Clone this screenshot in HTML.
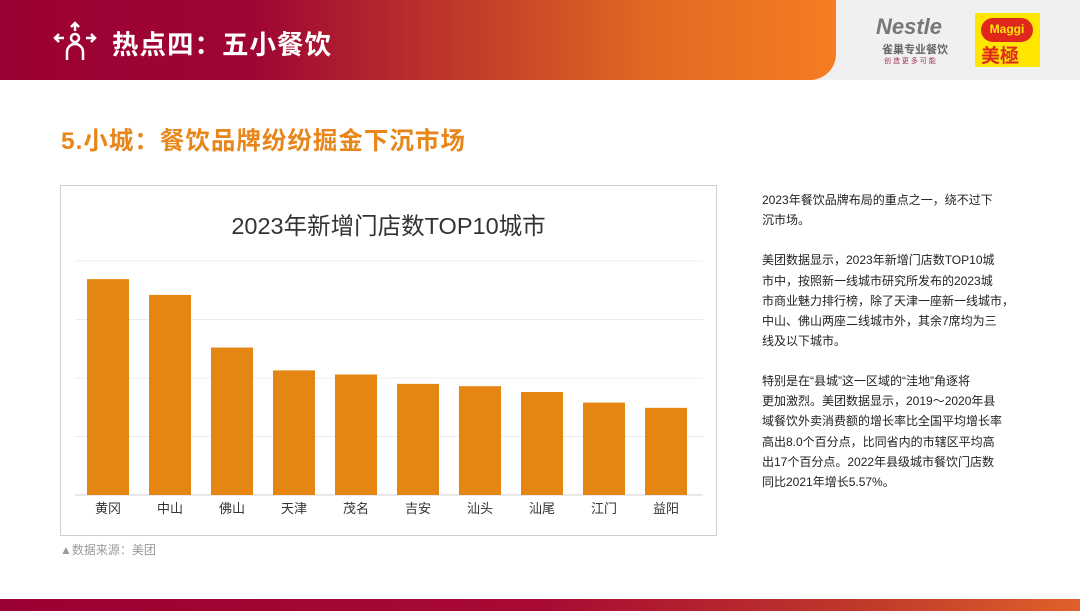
<!DOCTYPE html>
<html><head><meta charset="utf-8">
<style>
*{margin:0;padding:0;box-sizing:border-box}
body{width:1080px;height:611px;position:relative;overflow:hidden;background:#fff;font-family:"Liberation Sans","Noto Sans CJK SC",sans-serif}
.abs{position:absolute}
.rt{position:absolute;left:762px;font-size:12px;color:#222;white-space:nowrap;line-height:14px}
</style></head><body>
<div class="abs" style="left:0;top:0;width:1080px;height:80px;background:#f0f0f0"></div>
<div class="abs" style="left:0;top:0;width:836px;height:80px;background:linear-gradient(90deg,#9b0032 0%,#9e0534 30%,#c0392a 55%,#e06a22 78%,#f67d22 100%);border-bottom-right-radius:26px"></div>
<svg class="abs" style="left:52px;top:20px" width="46" height="42" viewBox="0 0 46 42">
<g fill="#fff" stroke="#fff" stroke-width="2.5"><circle cx="23" cy="18" r="4" fill="none"/><path d="M23 3v8M19 7l4-4 4 4M3 18h9M7 14l-4 4 4 4M43 18h-9M39 14l4 4-4 4" fill="none"/><path d="M15 40v-8a8 8 0 0 1 16 0v8" fill="none"/></g></svg>
<div class="abs" style="left:112px;top:23px;color:#fff;font-size:26.5px;font-weight:bold;letter-spacing:1px">热点四：五小餐饮</div>
<div class="abs" style="left:876px;top:14px;width:84px;height:54px">
<div style="position:absolute;left:0;top:0;font-size:22px;color:#777;font-weight:bold;font-style:italic">Nestle</div>
<div style="position:absolute;left:6px;top:27px;font-size:11px;color:#666;font-weight:bold">雀巢专业餐饮</div>
<div style="position:absolute;left:8px;top:42px;font-size:7px;color:#a03050">创 造 更 多 可 能</div></div>
<div class="abs" style="left:975px;top:13px;width:65px;height:54px;background:#ffe600">
<div style="position:absolute;left:6px;top:5px;width:52px;height:24px;background:#e0271e;border-radius:12px;color:#ffe600;font-size:12px;font-weight:bold;text-align:center;line-height:22px">Maggi</div>
<div style="position:absolute;left:6px;top:28px;color:#e0271e;font-size:19px;font-weight:bold">美極</div></div>
<div class="abs" style="left:61px;top:122px;color:#e8861a;font-size:24.5px;font-weight:bold;letter-spacing:1px">5.小城：餐饮品牌纷纷掘金下沉市场</div>

<div class="abs" style="left:60px;top:185px;width:657px;height:351px;border:1px solid #cfcfcf"></div>
<div class="abs" style="left:60px;top:207px;width:657px;text-align:center;font-size:23.5px;color:#333">2023年新增门店数TOP10城市</div>
<svg class="abs" id="chart" style="left:0;top:0" width="1080" height="611"></svg>
<div class="abs" style="left:60px;top:541px;font-size:12px;color:#999">▲数据来源：美团</div>

<div class="rt" style="top:193px">2023年餐饮品牌布局的重点之一，绕不过下</div>
<div class="rt" style="top:213px">沉市场。</div>
<div class="rt" style="top:253px">美团数据显示，2023年新增门店数TOP10城</div>
<div class="rt" style="top:274px">市中，按照新一线城市研究所发布的2023城</div>
<div class="rt" style="top:294px">市商业魅力排行榜，除了天津一座新一线城市，</div>
<div class="rt" style="top:314px">中山、佛山两座二线城市外，其余7席均为三</div>
<div class="rt" style="top:334px">线及以下城市。</div>
<div class="rt" style="top:374px">特别是在“县城”这一区域的“洼地”角逐将</div>
<div class="rt" style="top:394px">更加激烈。美团数据显示，2019～2020年县</div>
<div class="rt" style="top:414px">域餐饮外卖消费额的增长率比全国平均增长率</div>
<div class="rt" style="top:435px">高出8.0个百分点，比同省内的市辖区平均高</div>
<div class="rt" style="top:455px">出17个百分点。2022年县级城市餐饮门店数</div>
<div class="rt" style="top:475px">同比2021年增长5.57%。</div>

<div class="abs" style="left:0;top:599px;width:1080px;height:12px;background:linear-gradient(90deg,#9b0032 0%,#a80a33 50%,#c0392a 80%,#e0602a 100%)"></div>
<script>
const categories=["黄冈","中山","佛山","天津","茂名","吉安","汕头","汕尾","江门","益阳"];
const values=[3.69,3.42,2.52,2.13,2.06,1.90,1.86,1.76,1.58,1.49];
const gridTicks=[0,1,2,3,4];
const svg=document.getElementById('chart');
const NS='http://www.w3.org/2000/svg';
const y0=495,unit=58.5,x0=77,pitch=62,bw=42;
const yScale=v=>y0-v*unit;
const xScale=i=>x0+10+i*pitch;
gridTicks.forEach(t=>{
  const l=document.createElementNS(NS,'line');
  
  
  l.setAttribute('x1',75);l.setAttribute('x2',703);
  l.setAttribute('y1',yScale(t));l.setAttribute('y2',yScale(t));
  l.setAttribute('stroke',t===0?'#d0d0d0':'#ececec');
  l.setAttribute('stroke-width',1);
  svg.appendChild(l);
});
values.forEach((v,i)=>{
  const r=document.createElementNS(NS,'rect');
  
  
  r.setAttribute('x',xScale(i));r.setAttribute('width',bw);
  r.setAttribute('y',yScale(v));r.setAttribute('height',y0-yScale(v));
  r.setAttribute('fill','#e58512');
  svg.appendChild(r);
  const t=document.createElementNS(NS,'text');
  
  
  t.setAttribute('x',xScale(i)+bw/2);t.setAttribute('y',513);
  t.setAttribute('text-anchor','middle');
  t.setAttribute('font-size','13');t.setAttribute('fill','#333');
  t.setAttribute('font-family','"Liberation Sans","Noto Sans CJK SC",sans-serif');
  t.textContent=categories[i];
  svg.appendChild(t);
});
</script>
</body></html>
